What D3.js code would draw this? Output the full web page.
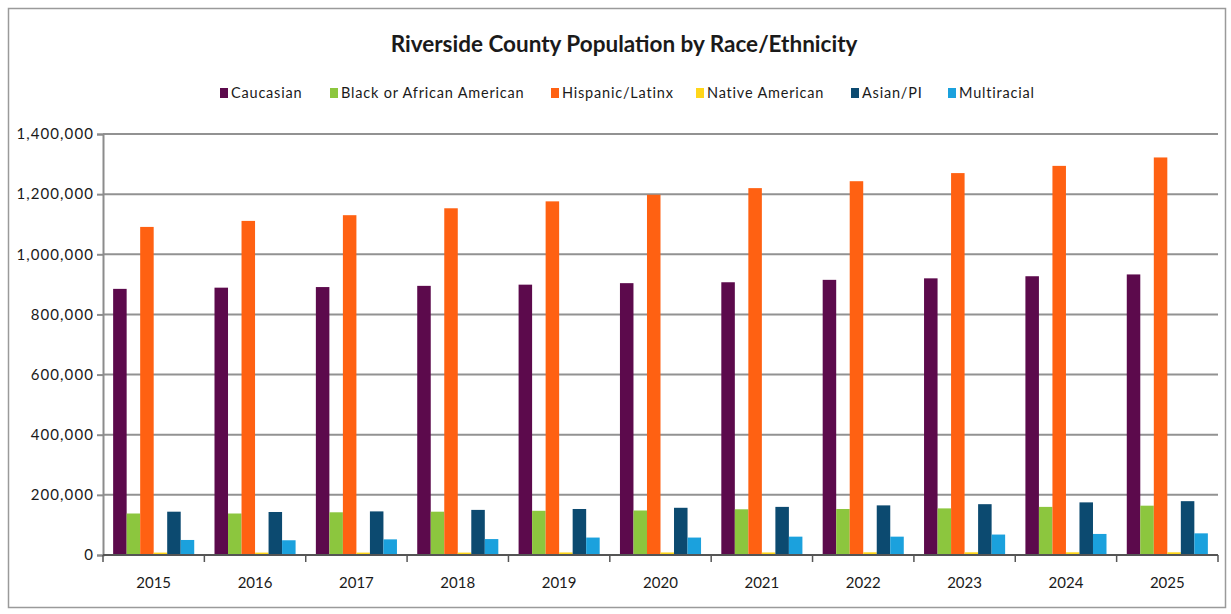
<!DOCTYPE html>
<html>
<head>
<meta charset="utf-8">
<script src="https://cdn.jsdelivr.net/npm/d3@7"></script>
<style>
  html, body { margin: 0; padding: 0; background: #fff; }
  svg { display: block; }
  text { font-family: Lato, "Open Sans", sans-serif; fill: #1a1a1a; }
</style>
</head>
<body>
<svg id="chart" width="1231" height="614"></svg>
<script>
// Riverside County population by race/ethnicity, 2015–2025
const years = ["2015", "2016", "2017", "2018", "2019", "2020", "2021", "2022", "2023", "2024", "2025"];
const seriesNames = ["Caucasian", "Black or African American", "Hispanic/Latinx", "Native American", "Asian/PI", "Multiracial"];
const seriesColors = ["#5c0a4c", "#8cc63e", "#ff6112", "#ffd61a", "#0c4a70", "#1ba1dd"];

const caucasian   = [885000, 889000, 891000, 895000, 899000, 904000, 907000, 915000, 920000, 927000, 933000];
const black       = [138000, 138000, 142000, 144000, 147000, 148000, 152000, 153000, 155000, 160000, 164000];
const hispanic    = [1091000, 1111000, 1130000, 1153000, 1176000, 1198000, 1220000, 1243000, 1270000, 1294000, 1322000];
const nativeAm    = [8000, 8000, 8000, 8000, 8500, 8500, 8500, 9000, 9000, 9000, 9000];
const asian       = [144000, 143000, 145000, 150000, 153000, 157000, 160000, 165000, 169000, 175000, 179000];
const multiracial = [50000, 49000, 52000, 53000, 58000, 58000, 61000, 61000, 68000, 70000, 72000];

const yTicks = [0, 200000, 400000, 600000, 800000, 1000000, 1200000, 1400000];

const seriesValues = [caucasian, black, hispanic, nativeAm, asian, multiracial];

const svg = d3.select("#chart");

// outer chart frame
svg.append("rect")
  .attr("x", 8.5).attr("y", 8.5)
  .attr("width", 1217).attr("height", 599)
  .attr("fill", "#fff").attr("stroke", "#9a9a9a").attr("stroke-width", 1.5);

const plot = { left: 103, right: 1218, top: 134, bottom: 555 };

const x0 = d3.scaleBand()
  .domain(years)
  .range([plot.left, plot.right])
  .paddingInner(0.2)
  .paddingOuter(0.1);

const x1 = d3.scaleBand()
  .domain(seriesNames)
  .range([0, x0.bandwidth()]);

const y = d3.scaleLinear()
  .domain([0, 1400000])
  .range([plot.bottom, plot.top]);

const color = d3.scaleOrdinal().domain(seriesNames).range(seriesColors);

// horizontal gridlines
svg.append("g")
  .selectAll("line")
  .data(yTicks.filter(d => d > 0))
  .join("line")
  .attr("x1", plot.left).attr("x2", plot.right)
  .attr("y1", d => y(d)).attr("y2", d => y(d))
  .attr("stroke", "#929292").attr("stroke-width", 2);

// y axis
const yAxis = d3.axisLeft(y)
  .tickValues(yTicks)
  .tickFormat(d3.format(","))
  .tickSize(6)
  .tickPadding(3);

const yG = svg.append("g")
  .attr("transform", `translate(${plot.left},0)`)
  .call(yAxis);
yG.select(".domain").attr("stroke", "#8c8c8c").attr("stroke-width", 2);
yG.selectAll(".tick line").attr("stroke", "#8c8c8c").attr("stroke-width", 2);
yG.selectAll(".tick text")
  .style("font-family", "Lato, sans-serif")
  .style("font-size", "15px")
  .style("letter-spacing", "1.1px")
  .attr("fill", "#1a1a1a");

// bars
const rows = years.map((yr, i) => ({
  year: yr,
  values: seriesNames.map((name, s) => ({ name, value: seriesValues[s][i] }))
}));

svg.append("g")
  .selectAll("g")
  .data(rows)
  .join("g")
  .attr("transform", d => `translate(${x0(d.year)},0)`)
  .selectAll("rect")
  .data(d => d.values)
  .join("rect")
  .attr("x", d => x1(d.name))
  .attr("width", x1.bandwidth())
  .attr("y", d => y(d.value))
  .attr("height", d => y(0) - y(d.value))
  .attr("fill", d => color(d.name));

// x axis with ticks between categories
const boundaries = d3.range(years.length + 1).map(i => plot.left + i * x0.step());
const xG = svg.append("g");
xG.append("line")
  .attr("x1", plot.left).attr("x2", plot.right)
  .attr("y1", plot.bottom).attr("y2", plot.bottom)
  .attr("stroke", "#555").attr("stroke-width", 2);
xG.selectAll("line.tk")
  .data(boundaries)
  .join("line")
  .attr("class", "tk")
  .attr("x1", d => d).attr("x2", d => d)
  .attr("y1", plot.bottom).attr("y2", plot.bottom + 7)
  .attr("stroke", "#555").attr("stroke-width", 1.5);
xG.selectAll("text")
  .data(years)
  .join("text")
  .attr("x", d => x0(d) + x0.bandwidth() / 2)
  .attr("y", 588)
  .attr("text-anchor", "middle")
  .style("font-size", "15px")
  .text(d => d);

// title
svg.append("text")
  .attr("x", 624)
  .attr("y", 52)
  .attr("text-anchor", "middle")
  .style("font-size", "22.5px")
  .style("font-weight", "bold")
  .text("Riverside County Population by Race/Ethnicity");

// legend
const legendX = [220, 330, 551, 696, 851, 948];
const legend = svg.append("g")
  .selectAll("g")
  .data(seriesNames)
  .join("g")
  .attr("transform", (d, i) => `translate(${legendX[i]},93)`);
legend.append("rect")
  .attr("x", 0).attr("y", -5)
  .attr("width", 8).attr("height", 10)
  .attr("fill", d => color(d));
legend.append("text")
  .attr("x", 11).attr("y", 5)
  .style("font-size", "14.5px")
  .style("letter-spacing", "0.8px")
  .text(d => d);
</script>
</body>
</html>
